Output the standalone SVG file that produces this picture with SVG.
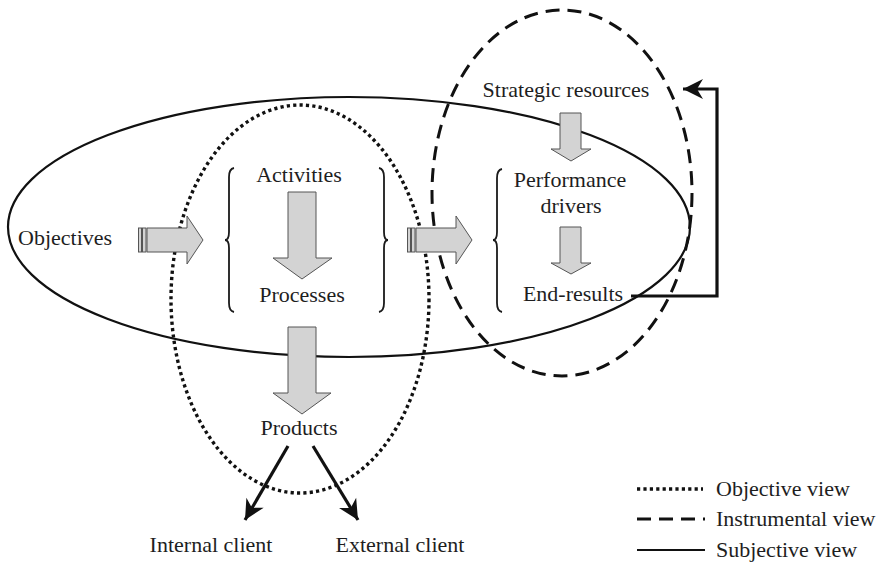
<svg xmlns="http://www.w3.org/2000/svg" width="882" height="572" viewBox="0 0 882 572">
  <style>
    text { font-family: "Liberation Serif", "Times New Roman", "DejaVu Serif", serif; font-size: 22px; fill: #1e1e1e; }
    .mid { text-anchor: middle; }
    .solid { fill: none; stroke: #111; stroke-width: 2.2; }
    .dotted { fill: none; stroke: #111; stroke-width: 3.4; stroke-dasharray: 3.2 3.2; }
    .dashed { fill: none; stroke: #111; stroke-width: 3; stroke-dasharray: 14 8; }
    .block { fill: #d3d3d3; stroke: #555; stroke-width: 1; }
    .brace { fill: none; stroke: #1a1a1a; stroke-width: 1.8; }
    .link { fill: none; stroke: #111; stroke-width: 3.2; }
  </style>
  <defs>
    <marker id="head" markerUnits="userSpaceOnUse" markerWidth="24" markerHeight="24" viewBox="-22 -11 24 22" refX="0" refY="0" orient="auto">
      <path d="M0,0 L-20,-10 L-14,0 L-20,10 Z" fill="#111"/>
    </marker>
  </defs>

  <rect width="882" height="572" fill="#fff"/>

  <!-- the three views -->
  <g id="views">
    <ellipse id="subjective-view" class="solid" cx="349" cy="227" rx="341" ry="130"/>
    <ellipse id="objective-view" class="dotted" cx="300" cy="299" rx="129" ry="194"/>
    <ellipse id="instrumental-view" class="dashed" cx="562" cy="193" rx="130" ry="183"/>
  </g>

  <!-- braces grouping the inner elements -->
  <g id="braces">
    <path class="brace" d="M234,168 Q229,169 229,177 L229,232 Q229,240 225,240 Q229,240 229,248 L229,303 Q229,311 234,312"/>
    <path class="brace" d="M379,168 Q384,169 384,177 L384,232 Q384,240 388,240 Q384,240 384,248 L384,303 Q384,311 379,312"/>
    <path class="brace" d="M502,169 Q497,170 497,178 L497,232 Q497,240 493,240 Q497,240 497,248 L497,303 Q497,311 502,312"/>
  </g>

  <!-- connectors -->
  <g id="connectors">
    <!-- striped block arrows -->
    <g id="arrow-objectives">
      <rect class="block" x="138.5" y="228" width="3" height="24"/>
      <rect class="block" x="142.5" y="228" width="3.5" height="24"/>
      <path class="block" d="M147,228 H187 V216 L203,240 L187,264 V252 H147 Z"/>
    </g>
    <g id="arrow-processes-drivers">
      <rect class="block" x="407.5" y="228" width="3" height="24"/>
      <rect class="block" x="411.5" y="228" width="3.5" height="24"/>
      <path class="block" d="M416,228 H456 V216 L472,240 L456,264 V252 H416 Z"/>
    </g>
    <!-- downward block arrows -->
    <path id="arrow-activities" class="block" d="M288,192 H316 V258 H332 L302,279 L273,258 H288 Z"/>
    <path id="arrow-products" class="block" d="M288,327 H316 V393 H331 L302,414 L273,393 H288 Z"/>
    <path id="arrow-resources" class="block" d="M560,113 H581 V149 H591 L571,161 L551,149 H560 Z"/>
    <path id="arrow-drivers" class="block" d="M560,227 H581 V263 H591 L571,274 L551,263 H560 Z"/>
    <!-- line arrows -->
    <path id="to-internal" class="link" d="M288,446 L245,520" marker-end="url(#head)"/>
    <path id="to-external" class="link" d="M313,446 L358,520" marker-end="url(#head)"/>
    <path id="feedback" class="link" d="M631,296 H717 V89 H683" marker-end="url(#head)"/>
  </g>

  <!-- nodes -->
  <g id="objectives"><text x="18" y="245">Objectives</text></g>
  <g id="activities"><text class="mid" x="299" y="182">Activities</text></g>
  <g id="processes"><text class="mid" x="302" y="302">Processes</text></g>
  <g id="products"><text class="mid" x="299" y="435">Products</text></g>
  <g id="internal-client"><text class="mid" x="211" y="552">Internal client</text></g>
  <g id="external-client"><text class="mid" x="400" y="552">External client</text></g>
  <g id="strategic-resources"><text class="mid" x="566" y="97">Strategic resources</text></g>
  <g id="performance-drivers">
    <text class="mid" x="570" y="187">Performance</text>
    <text class="mid" x="571" y="213">drivers</text>
  </g>
  <g id="end-results"><text class="mid" x="573" y="301">End-results</text></g>

  <!-- legend -->
  <g id="legend">
    <line class="dotted" x1="637" y1="489" x2="703" y2="489"/>
    <text x="716" y="496">Objective view</text>
    <line class="dashed" x1="637" y1="519" x2="705" y2="519"/>
    <text x="716" y="526">Instrumental view</text>
    <line class="solid" x1="637" y1="550" x2="705" y2="550" stroke-width="3"/>
    <text x="716" y="557">Subjective view</text>
  </g>
</svg>
